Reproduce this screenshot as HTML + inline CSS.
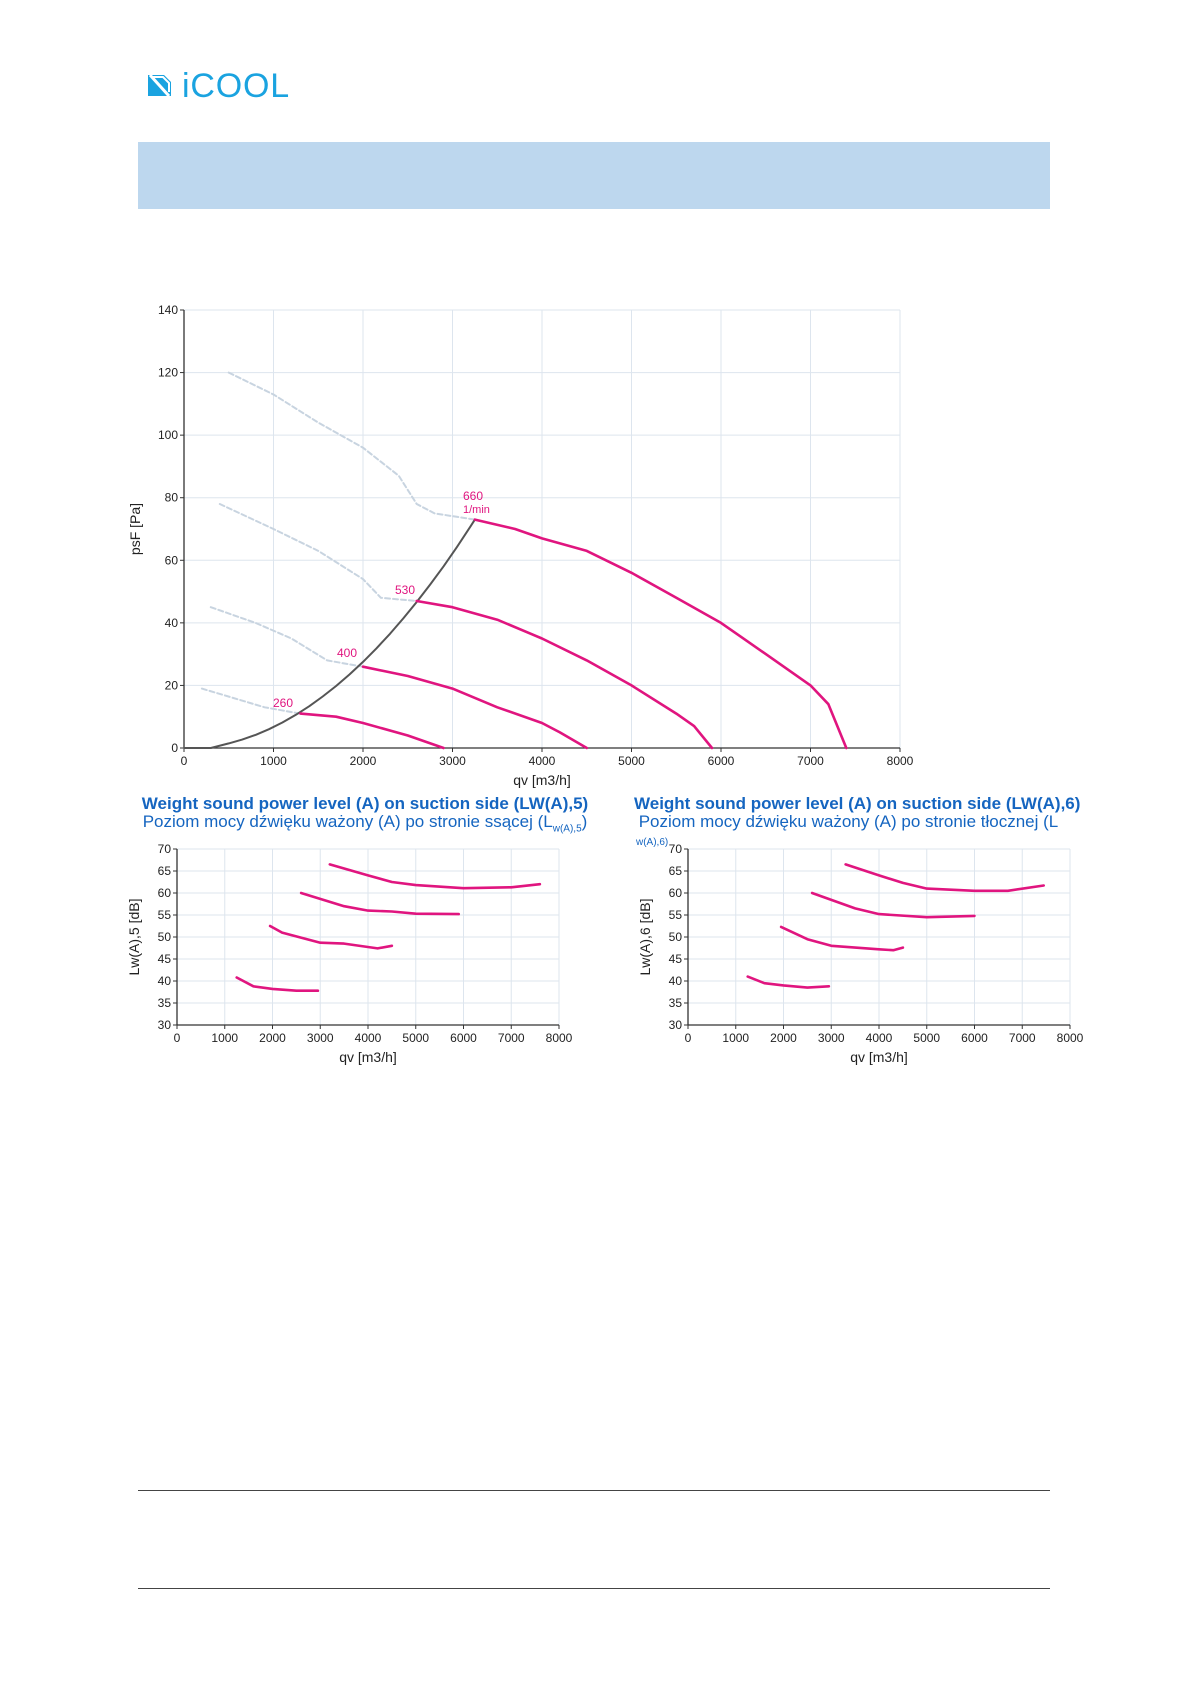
<!DOCTYPE html>
<html><head><meta charset="utf-8">
<style>
html,body{margin:0;padding:0;background:#fff;}
body{width:1191px;height:1684px;position:relative;overflow:hidden;font-family:"Liberation Sans",sans-serif;}
.abs{position:absolute;}
</style></head>
<body>
<svg class="abs" style="left:147px;top:74px" width="25" height="23" viewBox="0 0 25 23">
<path d="M1 1 H17 L24 8 V22 H1 Z" fill="#1aa3e0"/>
<path d="M3 1 L22 22" stroke="#fff" stroke-width="3"/>
<path d="M5 3 H16 L22 9 V18" fill="none" stroke="#fff" stroke-width="2"/>
</svg>
<div class="abs" style="left:182px;top:67px;font-size:34px;color:#1aa3e0;letter-spacing:0.8px">iCOOL</div>
<div class="abs" style="left:138px;top:142px;width:912px;height:67px;background:#bdd7ee"></div>
<div class="abs" style="left:138px;top:1490px;width:912px;height:1px;background:#444"></div>
<div class="abs" style="left:138px;top:1588px;width:912px;height:1px;background:#444"></div>

<div class="abs" style="left:100px;top:795px;width:530px;text-align:center;color:#1565c0;font-size:17px;line-height:18px;white-space:nowrap">
<b>Weight sound power level (A) on suction side (LW(A),5)</b><br>Poziom mocy dźwięku ważony (A) po stronie ssącej (L<sub style="font-size:10px">w(A),5</sub>)</div>
<div class="abs" style="left:634px;top:795px;width:560px;color:#1565c0;font-size:17px;line-height:18px;white-space:nowrap">
<b>Weight sound power level (A) on suction side (LW(A),6)</b><br>&nbsp;Poziom mocy dźwięku ważony (A) po stronie tłocznej (L</div>
<div class="abs" style="left:636px;top:837px;color:#1565c0;font-size:10px">w(A),6)</div>

<svg id="s" class="abs" style="left:0;top:0" width="1191" height="1684" font-family="Liberation Sans, sans-serif"></svg>
<script>
var S=document.getElementById('s'),h='';
function ax(o){
 var X=function(q){return o.x0+(o.x1-o.x0)*(q-o.qmin)/(o.qmax-o.qmin)};
 var Y=function(v){return o.y0+(o.y1-o.y0)*(v-o.vmin)/(o.vmax-o.vmin)};
 for(var q=o.qmin;q<=o.qmax;q+=o.qs){h+='<line x1="'+X(q)+'" y1="'+o.y1+'" x2="'+X(q)+'" y2="'+o.y0+'" stroke="#dde5ee" stroke-width="1"/>';
  h+='<line x1="'+X(q)+'" y1="'+o.y0+'" x2="'+X(q)+'" y2="'+(o.y0+4)+'" stroke="#333"/>';
  h+='<text x="'+X(q)+'" y="'+(o.y0+17)+'" font-size="12" text-anchor="middle" fill="#222">'+q+'</text>';}
 for(var v=o.vmin;v<=o.vmax;v+=o.vs){h+='<line x1="'+o.x0+'" y1="'+Y(v)+'" x2="'+o.x1+'" y2="'+Y(v)+'" stroke="#dde5ee"/>';
  h+='<line x1="'+(o.x0-4)+'" y1="'+Y(v)+'" x2="'+o.x0+'" y2="'+Y(v)+'" stroke="#333"/>';
  h+='<text x="'+(o.x0-6)+'" y="'+(Y(v)+4)+'" font-size="12" text-anchor="end" fill="#222">'+v+'</text>';}
 h+='<line x1="'+o.x0+'" y1="'+o.y1+'" x2="'+o.x0+'" y2="'+o.y0+'" stroke="#333" stroke-width="1.3"/>';
 h+='<line x1="'+o.x0+'" y1="'+o.y0+'" x2="'+o.x1+'" y2="'+o.y0+'" stroke="#333" stroke-width="1.3"/>';
 h+='<text x="'+((o.x0+o.x1)/2)+'" y="'+(o.y0+37)+'" font-size="14" text-anchor="middle" fill="#222">qv [m3/h]</text>';
 h+='<text transform="translate('+o.lx+','+((o.y0+o.y1)/2)+') rotate(-90)" font-size="14" text-anchor="middle" fill="#222">'+o.yl+'</text>';
 o.X=X;o.Y=Y;return o;}
function ln(o,pts,st){var p=pts.map(function(a){return o.X(a[0]).toFixed(1)+','+o.Y(a[1]).toFixed(1)}).join(' ');
 h+='<polyline points="'+p+'" fill="none" stroke-linejoin="round" stroke-linecap="round" '+st+'/>';}
var P='stroke="#e0157f" stroke-width="2.6"',G='stroke="#555" stroke-width="2"',D='stroke="#c8d4e0" stroke-width="2" stroke-dasharray="5,3"';
var m=ax({x0:184,x1:900,y0:748,y1:310,qmin:0,qmax:8000,qs:1000,vmin:0,vmax:140,vs:20,lx:140,yl:'psF [Pa]'});
ln(m,[[500,120],[1000,113],[1500,104],[2000,96],[2400,87],[2600,78],[2800,75],[3250,73]],D);
ln(m,[[400,78],[1000,70],[1500,63],[2000,54],[2200,48],[2600,47]],D);
ln(m,[[300,45],[800,40],[1200,35],[1600,28],[2000,26]],D);
ln(m,[[200,19],[900,13],[1300,11]],D);
var g=[[0,0],[300,0]];for(var q=500;q<=3250;q+=150)g.push([q,73*Math.pow(q/3250,2)*1.0-0.3*(1-q/3250)]);g.push([3250,73]);ln(m,g,G);
ln(m,[[3250,73],[3700,70],[4000,67],[4500,63],[5000,56],[5500,48],[6000,40],[6500,30],[7000,20],[7200,14],[7400,0]],P);
ln(m,[[2600,47],[3000,45],[3500,41],[4000,35],[4500,28],[5000,20],[5500,11],[5700,7],[5900,0]],P);
ln(m,[[2000,26],[2500,23],[3000,19],[3500,13],[4000,8],[4200,5],[4500,0]],P);
ln(m,[[1300,11],[1700,10],[2000,8],[2500,4],[2900,0]],P);
h+='<text x="463" y="500" font-size="12" fill="#e0157f">660</text><text x="463" y="513" font-size="11" fill="#e0157f">1/min</text>';
h+='<text x="395" y="594" font-size="12" fill="#e0157f">530</text>';
h+='<text x="337" y="657" font-size="12" fill="#e0157f">400</text>';
h+='<text x="273" y="707" font-size="12" fill="#e0157f">260</text>';
var a=ax({x0:177,x1:559,y0:1025,y1:849,qmin:0,qmax:8000,qs:1000,vmin:30,vmax:70,vs:5,lx:139,yl:'Lw(A),5  [dB]'});
ln(a,[[3200,66.5],[4000,64],[4500,62.5],[5000,61.8],[6000,61.1],[7000,61.3],[7600,62]],P);
ln(a,[[2600,60],[3500,57],[4000,56],[4500,55.8],[5000,55.3],[5900,55.2]],P);
ln(a,[[1950,52.5],[2200,51],[3000,48.7],[3500,48.5],[4200,47.4],[4500,48]],P);
ln(a,[[1250,40.8],[1600,38.8],[2000,38.2],[2500,37.8],[2950,37.8]],P);
var b=ax({x0:688,x1:1070,y0:1025,y1:849,qmin:0,qmax:8000,qs:1000,vmin:30,vmax:70,vs:5,lx:650,yl:'Lw(A),6  [dB]'});
ln(b,[[3300,66.5],[4000,64],[4500,62.3],[5000,61],[6000,60.5],[6700,60.5],[7450,61.7]],P);
ln(b,[[2600,60],[3500,56.5],[4000,55.2],[5000,54.5],[6000,54.8]],P);
ln(b,[[1950,52.3],[2500,49.5],[3000,48],[4000,47.2],[4300,47],[4500,47.6]],P);
ln(b,[[1250,41],[1600,39.5],[2000,39],[2500,38.5],[2950,38.8]],P);
S.innerHTML=h;
</script>
</body></html>
